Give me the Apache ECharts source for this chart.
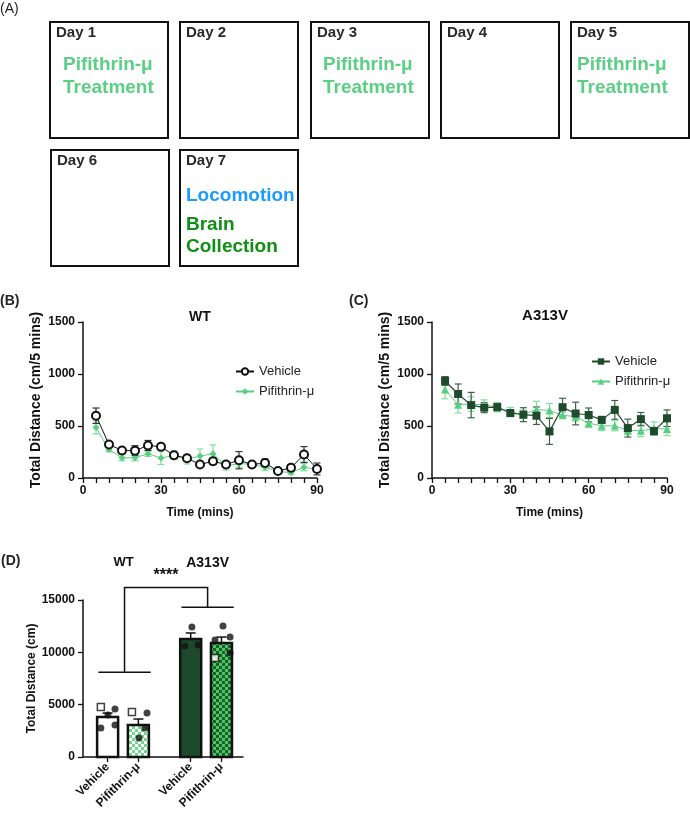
<!DOCTYPE html>
<html>
<head>
<meta charset="utf-8">
<script src="https://cdn.jsdelivr.net/npm/echarts@6/dist/echarts.min.js"></script>
<style>
html, body { margin: 0; padding: 0; background: #fff; }
#main { width: 690px; height: 813px; }
</style>
</head>
<body>
<div id="main"></div>
<script>
// time course (mins)
var minutes = [5, 10, 15, 20, 25, 30, 35, 40, 45, 50, 55, 60, 65, 70, 75, 80, 85, 90];
// WT
var wtVehicle = [599, 322, 265, 263, 313, 301, 218, 190, 130, 161, 130, 171, 130, 144, 67, 98, 226, 87];
var wtVehicleSem = [74, 20, 15, 48, 48, 29, 29, 19, 20, 32, 29, 83, 20, 39, 20, 32, 76, 57];
var wtPif = [486, 272, 195, 195, 233, 192, 218, 180, 211, 233, 116, 139, 131, 104, 64, 51, 104, 80];
var wtPifSem = [62, 20, 30, 30, 25, 62, 42, 45, 68, 85, 40, 35, 15, 30, 15, 15, 35, 25];
// A313V
var mutVehicle = [933, 808, 701, 676, 681, 625, 609, 599, 448, 681, 620, 606, 559, 655, 480, 566, 451, 575];
var mutVehicleSem = [42, 96, 122, 48, 32, 22, 67, 84, 125, 86, 109, 67, 32, 90, 86, 64, 35, 80];
var mutPif = [850, 705, 711, 703, 681, 634, 612, 658, 649, 603, 591, 527, 502, 502, 458, 454, 475, 472];
var mutPifSem = [88, 80, 70, 48, 45, 45, 40, 80, 67, 30, 43, 42, 46, 48, 40, 56, 64, 64];

// total distance bars
var barNames = ['Vehicle', 'Pifithrin-μ', 'Vehicle', 'Pifithrin-μ'];
var barPos = [0.8, 1.8, 3.5, 4.5];
var barMeans = [3820, 3060, 11270, 10890];
var barSem = [380, 570, 580, 570];
var filledDots = [[1.04, 4590], [0.81, 4010], [0.58, 2770], [1.04, 3060],
    [2.08, 4200], [1.82, 1815], [2.01, 2770],
    [3.54, 12420], [3.31, 10600], [3.74, 10700],
    [4.55, 12520], [4.29, 11180], [4.78, 11470], [4.78, 9940]];
var openSquares = [[0.58, 4780], [1.59, 4300], [4.29, 9460]];

// schedule
var dayLabels = ['Day 1', 'Day 2', 'Day 3', 'Day 4', 'Day 5', 'Day 6', 'Day 7'];
var dayNotes = [['Pifithrin-μ', 'Treatment'], [], ['Pifithrin-μ', 'Treatment'], [], ['Pifithrin-μ', 'Treatment'], [], ['Locomotion', 'Brain', 'Collection']];

var FONT = '"Liberation Sans", Arial, sans-serif';
var treatGreen = '#5bcf84';
var boxX = [50, 180, 311, 441, 571, 51, 180];
var boxY = [22, 22, 22, 22, 22, 150, 150];
var noteDx = [13, 0, 12, 0, 6, 0, 6];

function checker(c1, c2) {
    var cv = document.createElement('canvas')
    cv.width = 6
    cv.height = 6
    var ctx = cv.getContext('2d')
    ctx.fillStyle = c1
    ctx.fillRect(0, 0, 6, 6)
    ctx.fillStyle = c2
    ctx.fillRect(0, 0, 3, 3)
    ctx.fillRect(3, 3, 3, 3)
    return { image: cv, repeat: 'repeat' }
}
var barFills = ['#ffffff', checker('#ffffff', '#6fd88d'), '#1d4a2c', checker('#1f5a30', '#46c95e')];

var graphics = [];
dayLabels.forEach(function (d, i) {
    graphics.push({ type: 'rect', shape: { x: boxX[i], y: boxY[i], width: 118, height: 116 },
        style: { fill: '#fff', stroke: '#111', lineWidth: 2 } })
    graphics.push({ type: 'text', x: boxX[i] + 6, y: boxY[i] + 11,
        style: { text: d, font: 'bold 15px ' + FONT, fill: '#2a2a2a', verticalAlign: 'middle' } })
    var notes = dayNotes[i]
    if (notes.length == 2) {
        notes.forEach(function (t, k) {
            graphics.push({ type: 'text', x: boxX[i] + noteDx[i], y: boxY[i] + 43 + k * 23,
                style: { text: t, font: 'bold 19px ' + FONT, fill: treatGreen, verticalAlign: 'middle' } })
        })
    } else if (notes.length == 3) {
        var cols = ['#1a9bff', '#0f8f14', '#0f8f14']
        var dy = [46, 75, 97]
        notes.forEach(function (t, k) {
            graphics.push({ type: 'text', x: boxX[i] + noteDx[i], y: boxY[i] + dy[k],
                style: { text: t, font: 'bold 19px ' + FONT, fill: cols[k], verticalAlign: 'middle' } })
        })
    }
});
// panel letters and titles
graphics.push({ type: 'text', x: 0, y: 9, style: { text: '(A)', font: '14px ' + FONT, fill: '#222', verticalAlign: 'middle' } });
graphics.push({ type: 'text', x: 0, y: 301, style: { text: '(B)', font: 'bold 14px ' + FONT, fill: '#222', verticalAlign: 'middle' } });
graphics.push({ type: 'text', x: 349, y: 301, style: { text: '(C)', font: 'bold 14px ' + FONT, fill: '#222', verticalAlign: 'middle' } });
graphics.push({ type: 'text', x: 1, y: 561, style: { text: '(D)', font: 'bold 14px ' + FONT, fill: '#222', verticalAlign: 'middle' } });
graphics.push({ type: 'text', x: 200, y: 317, style: { text: 'WT', font: 'bold 14px ' + FONT, fill: '#111', align: 'center', verticalAlign: 'middle' } });
graphics.push({ type: 'text', x: 545, y: 316, style: { text: 'A313V', font: 'bold 15px ' + FONT, fill: '#111', align: 'center', verticalAlign: 'middle' } });

function errData(vals, sems) {
    return minutes.map(function (m, i) { return [m, vals[i], sems[i]] })
}
function errSeries(idx, vals, sems, color) {
    return {
        type: 'custom', xAxisIndex: idx, yAxisIndex: idx, z: 1, silent: true,
        data: errData(vals, sems),
        renderItem: function (params, api) {
            var x = api.value(0), y = api.value(1), e = api.value(2)
            var t = api.coord([x, y + e]), b = api.coord([x, y - e])
            var st = { stroke: color, lineWidth: 1.2 }
            return { type: 'group', children: [
                { type: 'line', shape: { x1: t[0], y1: t[1], x2: b[0], y2: b[1] }, style: st },
                { type: 'line', shape: { x1: t[0] - 3.5, y1: t[1], x2: t[0] + 3.5, y2: t[1] }, style: st },
                { type: 'line', shape: { x1: b[0] - 3.5, y1: b[1], x2: b[0] + 3.5, y2: b[1] }, style: st }
            ] }
        }
    }
}
function lineData(vals) {
    return minutes.map(function (m, i) { return [m, vals[i]] })
}

var axisCol = '#111';
function timeAxis(idx) {
    return {
        gridIndex: idx, type: 'value', min: 0, max: 90, interval: 5,
        name: 'Time (mins)', nameLocation: 'middle', nameGap: 29,
        nameTextStyle: { fontFamily: FONT, fontWeight: 'bold', fontSize: 12, color: '#111' },
        axisLine: { lineStyle: { color: axisCol, width: 1.5 } },
        axisTick: { length: 5, lineStyle: { color: axisCol, width: 1.3 } },
        axisLabel: { margin: 7, fontFamily: FONT, fontWeight: 'bold', fontSize: 12, color: '#111',
            formatter: function (v) { return v % 30 == 0 ? String(v) : '' } },
        splitLine: { show: false }
    }
}
function distAxis(idx, max, interval, name, fs, gap) {
    return {
        gridIndex: idx, type: 'value', min: 0, max: max, interval: interval,
        name: name, nameLocation: 'middle', nameGap: gap,
        nameTextStyle: { fontFamily: FONT, fontWeight: 'bold', fontSize: fs, color: '#111' },
        axisLine: { show: true, lineStyle: { color: axisCol, width: 1.5 } },
        axisTick: { show: true, length: 5, lineStyle: { color: axisCol, width: 1.3 } },
        axisLabel: { margin: 8, fontFamily: FONT, fontWeight: 'bold', fontSize: 12, color: '#111',
            formatter: function (v) { return String(v) } },
        splitLine: { show: false }
    }
}

var dAxisLabel = {};
barPos.forEach(function (p, i) { dAxisLabel[p] = barNames[i] });

var option = {
    animation: false,
    backgroundColor: '#fff',
    graphic: graphics,
    grid: [
        { left: 83, top: 322, width: 234, height: 156 },
        { left: 432, top: 322, width: 235, height: 156 },
        { left: 83, top: 600, width: 160, height: 157 }
    ],
    xAxis: [
        timeAxis(0),
        timeAxis(1),
        {
            gridIndex: 2, type: 'value', min: 0, max: 5.2,
            axisLine: { lineStyle: { color: axisCol, width: 1.5 } },
            axisTick: { length: 5, customValues: barPos, lineStyle: { color: axisCol, width: 1.3 } },
            axisLabel: { customValues: barPos, rotate: 45, margin: 8, fontFamily: FONT, fontWeight: 'bold',
                fontSize: 12, color: '#111', formatter: function (v) { return dAxisLabel[v] || '' } },
            splitLine: { show: false }
        }
    ],
    yAxis: [
        distAxis(0, 1500, 500, 'Total Distance (cm/5 mins)', 14, 40),
        distAxis(1, 1500, 500, 'Total Distance (cm/5 mins)', 14, 40),
        distAxis(2, 15000, 5000, 'Total Distance (cm)', 12, 42)
    ],
    legend: [
        { data: ['WT|Vehicle', 'WT|Pifithrin-μ'], left: 230, top: 360, orient: 'vertical', itemGap: 7,
          itemWidth: 18, itemHeight: 8, formatter: function (n) { return n.split('|')[1] },
          textStyle: { fontFamily: FONT, fontSize: 13, color: '#222' } },
        { data: ['A313V|Vehicle', 'A313V|Pifithrin-μ'], left: 586, top: 350, orient: 'vertical', itemGap: 7,
          itemWidth: 18, itemHeight: 8, formatter: function (n) { return n.split('|')[1] },
          textStyle: { fontFamily: FONT, fontSize: 13, color: '#222' } }
    ],
    series: [
        errSeries(0, wtPif, wtPifSem, '#86dc9f'),
        errSeries(0, wtVehicle, wtVehicleSem, '#333'),
        { name: 'WT|Pifithrin-μ', type: 'line', xAxisIndex: 0, yAxisIndex: 0, z: 2, data: lineData(wtPif),
          symbol: 'diamond', symbolSize: 7, color: '#58cf7f', lineStyle: { width: 1, color: '#58cf7f' } },
        { name: 'WT|Vehicle', type: 'line', xAxisIndex: 0, yAxisIndex: 0, z: 3, data: lineData(wtVehicle),
          symbol: 'emptyCircle', symbolSize: 8, color: '#111', itemStyle: { borderWidth: 1.5, color: '#111' },
          lineStyle: { width: 1, color: '#111' } },

        errSeries(1, mutPif, mutPifSem, '#86dc9f'),
        errSeries(1, mutVehicle, mutVehicleSem, '#3f6149'),
        { name: 'A313V|Pifithrin-μ', type: 'line', xAxisIndex: 1, yAxisIndex: 1, z: 2, data: lineData(mutPif),
          symbol: 'triangle', symbolSize: 8, color: '#58cf7f', lineStyle: { width: 1, color: '#58cf7f' } },
        { name: 'A313V|Vehicle', type: 'line', xAxisIndex: 1, yAxisIndex: 1, z: 3, data: lineData(mutVehicle),
          symbol: 'rect', symbolSize: 8, color: '#1f4a2c', lineStyle: { width: 1.2, color: '#1f4a2c' } },

        // bars
        { type: 'custom', xAxisIndex: 2, yAxisIndex: 2, z: 2, silent: true,
          data: barPos.map(function (p, i) { return [p, barMeans[i], barSem[i]] }),
          renderItem: function (params, api) {
              var x = api.value(0), v = api.value(1), e = api.value(2)
              var p0 = api.coord([x, 0]), p1 = api.coord([x, v]), pe = api.coord([x, v + e])
              var w = 21
              return { type: 'group', children: [
                  { type: 'rect', shape: { x: p0[0] - w / 2, y: p1[1], width: w, height: p0[1] - p1[1] },
                    style: { fill: barFills[params.dataIndex], stroke: '#111', lineWidth: 2.5 } },
                  { type: 'line', shape: { x1: pe[0], y1: pe[1], x2: p1[0], y2: p1[1] }, style: { stroke: '#111', lineWidth: 1.5 } },
                  { type: 'line', shape: { x1: pe[0] - 5, y1: pe[1], x2: pe[0] + 5, y2: pe[1] }, style: { stroke: '#111', lineWidth: 1.5 } }
              ] }
          } },
        { type: 'scatter', xAxisIndex: 2, yAxisIndex: 2, z: 4, silent: true, data: filledDots,
          symbol: 'circle', symbolSize: 7, itemStyle: { color: '#111' } },
        { type: 'scatter', xAxisIndex: 2, yAxisIndex: 2, z: 4, silent: true, data: openSquares,
          symbol: 'rect', symbolSize: 7, itemStyle: { color: '#fff', borderColor: '#111', borderWidth: 1.5 } },
        // significance bracket and group labels
        { type: 'custom', xAxisIndex: 2, yAxisIndex: 2, z: 3, silent: true, clip: false,
          data: [[0.5, 2.2, 8100, 3.2, 4.9, 14300, 16200]],
          renderItem: function (params, api) {
              var a1 = api.coord([api.value(0), api.value(2)]), a2 = api.coord([api.value(1), api.value(2)])
              var b1 = api.coord([api.value(3), api.value(5)]), b2 = api.coord([api.value(4), api.value(5)])
              var ca = (a1[0] + a2[0]) / 2, cb = (b1[0] + b2[0]) / 2
              var top = api.coord([0, api.value(6)])[1]
              var st = { stroke: '#111', lineWidth: 1.5 }
              var star = api.coord([(1.35 + 4.05) / 2, 17300])
              var lab = api.coord([0, 18550])[1]
              return { type: 'group', children: [
                  { type: 'line', shape: { x1: a1[0], y1: a1[1], x2: a2[0], y2: a2[1] }, style: st },
                  { type: 'line', shape: { x1: b1[0], y1: b1[1], x2: b2[0], y2: b2[1] }, style: st },
                  { type: 'polyline', shape: { points: [[ca, a1[1]], [ca, top], [cb, top], [cb, b1[1]]] }, style: { stroke: '#111', lineWidth: 1.5, fill: null } },
                  { type: 'text', x: star[0], y: star[1], style: { text: '****', font: 'bold 16px ' + FONT, fill: '#111', align: 'center', verticalAlign: 'middle' } },
                  { type: 'text', x: ca - 1, y: lab, style: { text: 'WT', font: 'bold 13px ' + FONT, fill: '#111', align: 'center', verticalAlign: 'middle' } },
                  { type: 'text', x: cb, y: lab, style: { text: 'A313V', font: 'bold 14px ' + FONT, fill: '#111', align: 'center', verticalAlign: 'middle' } }
              ] }
          } }
    ]
};

var myChart = echarts.init(document.getElementById('main'));
myChart.setOption(option);
</script>
</body>
</html>
